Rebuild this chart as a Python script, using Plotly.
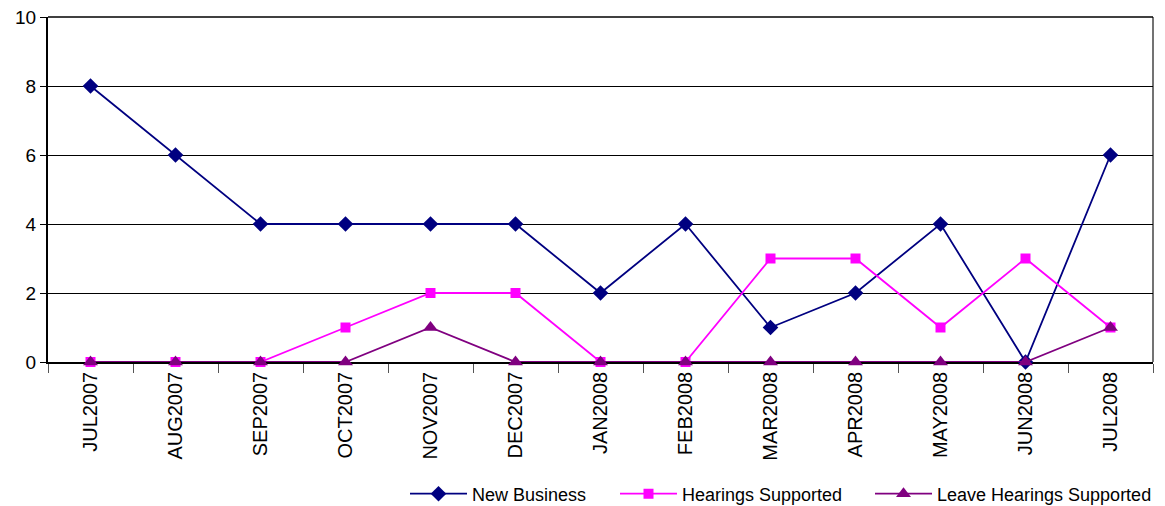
import plotly.graph_objects as go

months = ["JUL2007", "AUG2007", "SEP2007", "OCT2007", "NOV2007", "DEC2007",
          "JAN2008", "FEB2008", "MAR2008", "APR2008", "MAY2008", "JUN2008", "JUL2008"]
new_business = [8, 6, 4, 4, 4, 4, 2, 4, 1, 2, 4, 0, 6]
hearings_supported = [0, 0, 0, 1, 2, 2, 0, 0, 3, 3, 1, 3, 1]
leave_hearings_supported = [0, 0, 0, 0, 1, 0, 0, 0, 0, 0, 0, 0, 1]

# page body has an 8px margin: figure occupies 1157x498 starting at (8, 8)
W, H = 1157, 498
OFF = 8

fig = go.Figure()
fig.add_trace(go.Scatter(x=months, y=new_business, name="New Business", mode="lines+markers",
                         line=dict(color="#000080", width=1.8), legend="legend", cliponaxis=False,
                         marker=dict(symbol="diamond", size=12, color="#000080")))
fig.add_trace(go.Scatter(x=months, y=hearings_supported, name="Hearings Supported", mode="lines+markers",
                         line=dict(color="#FF00FF", width=1.8), legend="legend2", cliponaxis=False,
                         marker=dict(symbol="square", size=10, color="#FF00FF")))
fig.add_trace(go.Scatter(x=months, y=leave_hearings_supported, name="Leave Hearings Supported",
                         mode="lines+markers", legend="legend3", cliponaxis=False,
                         line=dict(color="#800080", width=1.8),
                         marker=dict(symbol="triangle-up", size=13, color="#800080")))


def leg(xs):
    return dict(orientation="h", xref="container", yref="container",
                x=(xs - OFF - 5) / W, xanchor="left", y=1 - (494 - OFF) / H, yanchor="middle",
                font=dict(size=18), itemwidth=57, bgcolor="rgba(0,0,0,0)")


fig.update_layout(
    width=W, height=H,
    margin=dict(l=48 - OFF, r=12, t=17 - OFF, b=144, autoexpand=False),
    paper_bgcolor="white", plot_bgcolor="white",
    font=dict(family="Liberation Sans, Arial, sans-serif", color="black"),
    showlegend=True,
    legend=leg(410), legend2=leg(620), legend3=leg(875),
    xaxis=dict(type="category", showline=True, linecolor="black", linewidth=1.5,
               ticks="outside", tickson="boundaries", ticklen=9, tickcolor="#555",
               tickangle=-90, tickfont=dict(size=20), showgrid=False,
               range=[-0.5, 12.5], layer="below traces"),
    yaxis=dict(range=[0, 10], dtick=2, showgrid=True, gridcolor="black", gridwidth=1,
               showline=True, linecolor="black", linewidth=2, ticks="outside",
               ticklen=6, tickcolor="black", tickfont=dict(size=19), zeroline=False,
               ticklabeloverflow="allow", layer="below traces"),
    shapes=[dict(type="line", xref="paper", yref="paper", x0=1, x1=1, y0=0, y1=1,
                 line=dict(color="#444", width=1.5), layer="below"),
            dict(type="line", xref="paper", yref="paper", x0=0, x1=1, y0=1, y1=1,
                 line=dict(color="black", width=1.5), layer="below")],
)

fig.write_html("out.html")
